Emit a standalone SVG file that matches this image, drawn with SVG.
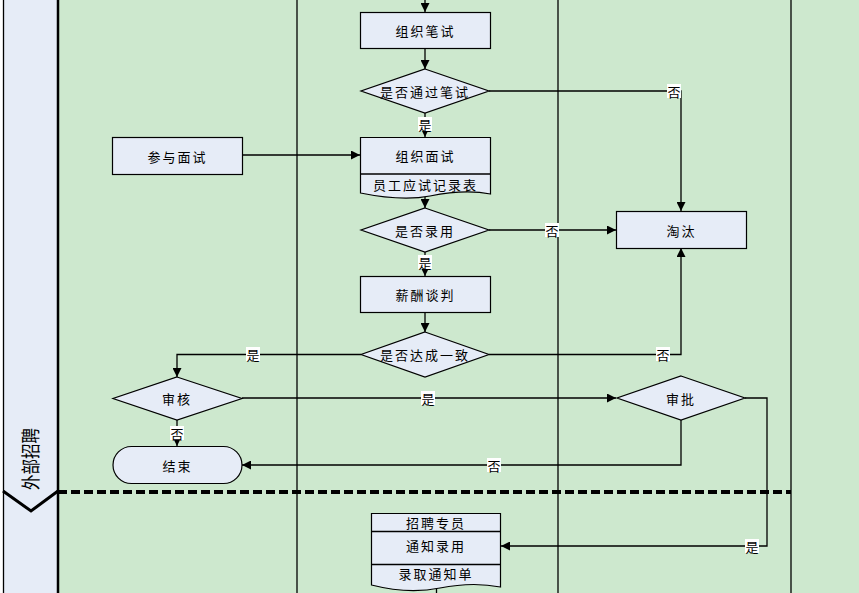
<svg xmlns="http://www.w3.org/2000/svg" width="859" height="593" viewBox="0 0 859 593">
<defs>
<marker id="arr" viewBox="0 0 10 10" refX="10" refY="5" markerWidth="9" markerHeight="9" markerUnits="userSpaceOnUse" orient="auto">
<path d="M0,0 L10,5 L0,10 Z" fill="#000"/>
</marker>
<style>
.n{fill:#E6ECF7;stroke:#000;stroke-width:1.2}
.t{font-family:"Noto Sans CJK SC","Liberation Sans",sans-serif;font-size:13px;letter-spacing:2px;text-anchor:middle;dominant-baseline:central;fill:#000}
.c{fill:none;stroke:#000;stroke-width:1.3}
.a{marker-end:url(#arr)}
.lb{fill:#fff}
.lt{font-family:"Noto Sans CJK SC",sans-serif;font-size:13px;text-anchor:middle;dominant-baseline:central;fill:#000}
.lane{stroke:#000;stroke-width:1.3}
</style>
</defs>
<rect x="0" y="0" width="859" height="593" fill="#fff"/>
<rect x="58" y="0" width="801" height="593" fill="#CDE8CE"/>
<rect x="3" y="0" width="55" height="593" fill="#E6ECF7"/>
<g id="lanes">
<line class="lane" x1="3.5" y1="0" x2="3.5" y2="593"/>
<line x1="58" y1="0" x2="58" y2="593" stroke="#000" stroke-width="2.5"/>
<line class="lane" x1="297" y1="0" x2="297" y2="593"/>
<line class="lane" x1="558" y1="0" x2="558" y2="593"/>
<line class="lane" x1="791" y1="0" x2="791" y2="593"/>
<line x1="58" y1="492" x2="791" y2="492" stroke="#000" stroke-width="4" stroke-dasharray="9 4"/>
<path d="M3,491 L31,511 L58,491" fill="none" stroke="#000" stroke-width="3"/>
<text transform="translate(29,459) rotate(-90)" font-family="Noto Sans CJK SC,sans-serif" font-size="19" text-anchor="middle" dominant-baseline="central" textLength="62" lengthAdjust="spacingAndGlyphs">外部招聘</text>
</g>
<g id="connectors">
<line class="c a" x1="425" y1="0" x2="425" y2="12"/>
<line class="c a" x1="425" y1="48" x2="425" y2="69"/>
<line class="c a" x1="425" y1="113" x2="425" y2="137"/>
<polyline class="c a" points="489,91 681,91 681,211"/>
<line class="c a" x1="242" y1="155" x2="360" y2="155"/>
<line class="c a" x1="425" y1="197" x2="425" y2="208"/>
<line class="c a" x1="489" y1="230" x2="616" y2="230"/>
<line class="c a" x1="425" y1="252" x2="425" y2="276"/>
<line class="c a" x1="425" y1="312" x2="425" y2="332"/>
<polyline class="c a" points="361,354.5 177,354.5 177,377"/>
<polyline class="c a" points="489,354.5 681,354.5 681,248"/>
<line class="c a" x1="242" y1="398" x2="616" y2="398"/>
<line class="c a" x1="177" y1="420" x2="177" y2="446"/>
<polyline class="c a" points="681,420 681,465 242,465"/>
<polyline class="c a" points="745,398 767,398 767,546 501,546"/>
<line class="c" x1="436.5" y1="588" x2="436.5" y2="593"/>
<g id="labels">
<rect class="lb" x="667" y="84" width="14" height="14"/><text class="lt" x="674" y="91">否</text>
<rect class="lb" x="418" y="117" width="14" height="14"/><text class="lt" x="425" y="124">是</text>
<rect class="lb" x="545" y="223" width="14" height="14"/><text class="lt" x="552" y="230">否</text>
<rect class="lb" x="418" y="255" width="14" height="14"/><text class="lt" x="425" y="262">是</text>
<rect class="lb" x="246" y="347" width="14" height="14"/><text class="lt" x="253" y="354">是</text>
<rect class="lb" x="656" y="347" width="14" height="14"/><text class="lt" x="663" y="354">否</text>
<rect class="lb" x="421" y="391" width="14" height="14"/><text class="lt" x="428" y="398">是</text>
<rect class="lb" x="170" y="426" width="14" height="14"/><text class="lt" x="177" y="433">否</text>
<rect class="lb" x="487" y="458" width="14" height="14"/><text class="lt" x="494" y="465">否</text>
<rect class="lb" x="745" y="539" width="14" height="14"/><text class="lt" x="752" y="546">是</text>
</g>
</g>
<g id="n-zzbs"><rect class="n" x="360.5" y="12.5" width="130" height="36"/><text class="t" x="425.5" y="30.5">组织笔试</text></g>
<g id="n-sftgbs"><polygon class="n" points="425,69 489,91 425,113 361,91"/><text class="t" x="425" y="91">是否通过笔试</text></g>
<g id="n-cymsh"><rect class="n" x="112.5" y="137.5" width="130" height="37"/><text class="t" x="177.5" y="156">参与面试</text></g>
<g id="n-zzms"><path class="n" d="M360.5,137.5 H490.5 V194 C470,190 450,192 430,196 C410,200 385,198 360.5,193 Z"/><line class="c" x1="360.5" y1="174" x2="490.5" y2="174"/><text class="t" x="425.5" y="155.5">组织面试</text><text class="t" x="425.5" y="184">员工应试记录表</text></g>
<g id="n-sfly"><polygon class="n" points="425,208 489,230 425,252 361,230"/><text class="t" x="425" y="230">是否录用</text></g>
<g id="n-tt"><rect class="n" x="616.5" y="211.5" width="130" height="37"/><text class="t" x="681.5" y="230">淘汰</text></g>
<g id="n-xctp"><rect class="n" x="360.5" y="276.5" width="130" height="36"/><text class="t" x="425.5" y="294.5">薪酬谈判</text></g>
<g id="n-sfdcyz"><polygon class="n" points="425,332 489,354.5 425,377 361,354.5"/><text class="t" x="425" y="354.5">是否达成一致</text></g>
<g id="n-sh"><polygon class="n" points="177,377 242,398.5 177,420 113,398.5"/><text class="t" x="177" y="398.5">审核</text></g>
<g id="n-sp"><polygon class="n" points="681,376 745,398 681,420 617,398"/><text class="t" x="681" y="398">审批</text></g>
<g id="n-js"><rect class="n" x="113" y="446.5" width="129" height="37" rx="18.5" ry="18.5"/><text class="t" x="177.5" y="465">结束</text></g>
<g id="n-tzly"><path class="n" d="M371.5,513.5 H500.5 V587 C480,583 460,584 440,588 C420,592 395,591 371.5,585 Z"/><line class="c" x1="371.5" y1="531.5" x2="500.5" y2="531.5"/><line class="c" x1="371.5" y1="564.5" x2="500.5" y2="564.5"/><text class="t" x="436" y="522.5">招聘专员</text><text class="t" x="436" y="545.5">通知录用</text><text class="t" x="436" y="573">录取通知单</text></g>
</svg>
